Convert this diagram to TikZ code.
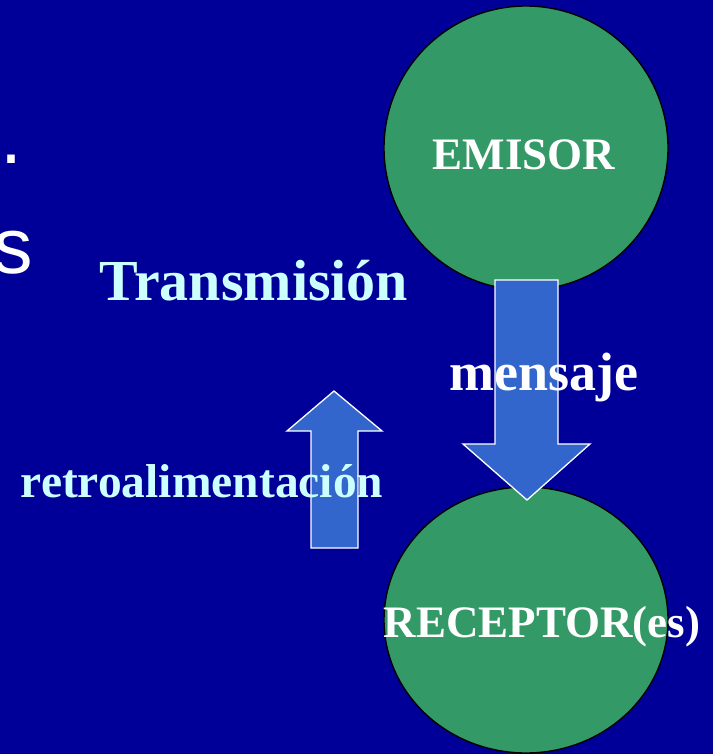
\documentclass[tikz,border=0pt]{standalone}
\usepackage{fontspec}
\setmainfont{Liberation Serif}
\setsansfont{Liberation Sans}
\usetikzlibrary{shapes.geometric}

\definecolor{fondo}{HTML}{000099}
\definecolor{verde}{HTML}{339966}
\definecolor{azulflecha}{HTML}{3366CC}
\definecolor{celeste}{HTML}{CCFFFF}

\begin{document}
\begin{tikzpicture}[x=1pt,y=-1pt,
  globo/.style={draw=black,line width=1.4pt,fill=verde,inner sep=0pt},
  flecha/.style={draw=white,line width=1.3pt,fill=azulflecha,line join=miter},
  titulo/.style={font=\bfseries\fontsize{#1}{#1}\selectfont,inner sep=0pt,anchor=base}]
  % Fondo de la diapositiva
  \fill[fondo] (0,0) rectangle (713,754);
  \useasboundingbox (0,0) rectangle (713,754);
  \clip (0,0) rectangle (713,754);

  % Restos del texto cortado a la izquierda
  \node[font=\sffamily\fontsize{79}{79}\selectfont,text=white,inner sep=0pt,anchor=base west] (punto) at (0,164) {.};
  \node[font=\sffamily\fontsize{79}{79}\selectfont,text=white,inner sep=0pt,anchor=base west] (resto) at (-7,273) {s};

  % Los dos globos
  \node[globo,circle,minimum size=284pt] (emisor) at (526,148) {};
  \node[globo,ellipse,minimum width=284pt,minimum height=266pt] (receptor) at (526,620) {};

  % Flecha del mensaje (hacia abajo)
  \draw[flecha] (495,280) -- (558,280) -- (558,444) -- (590,444) -- (527,500)
    -- (463,444) -- (495,444) -- cycle;

  % Flecha de retroalimentacion (hacia arriba)
  \draw[flecha] (311,548) -- (358,548) -- (358,431) -- (382,431) -- (334,391)
    -- (287,431) -- (311,431) -- cycle;

  % Textos
  \node[titulo=45,text=white] (emisortxt) at (524,169) {EMISOR};
  \node[titulo=58,text=celeste] (transmision) at (254,300) {Transmisión};
  \node[titulo=54,text=white] (mensaje) at (544,390) {mensaje};
  \node[titulo=47.5,text=celeste] (retro) at (202,497) {retroalimentación};
  \node[titulo=45,text=white] (receptortxt) at (542,637) {RECEPTOR(es)};
\end{tikzpicture}
\end{document}
